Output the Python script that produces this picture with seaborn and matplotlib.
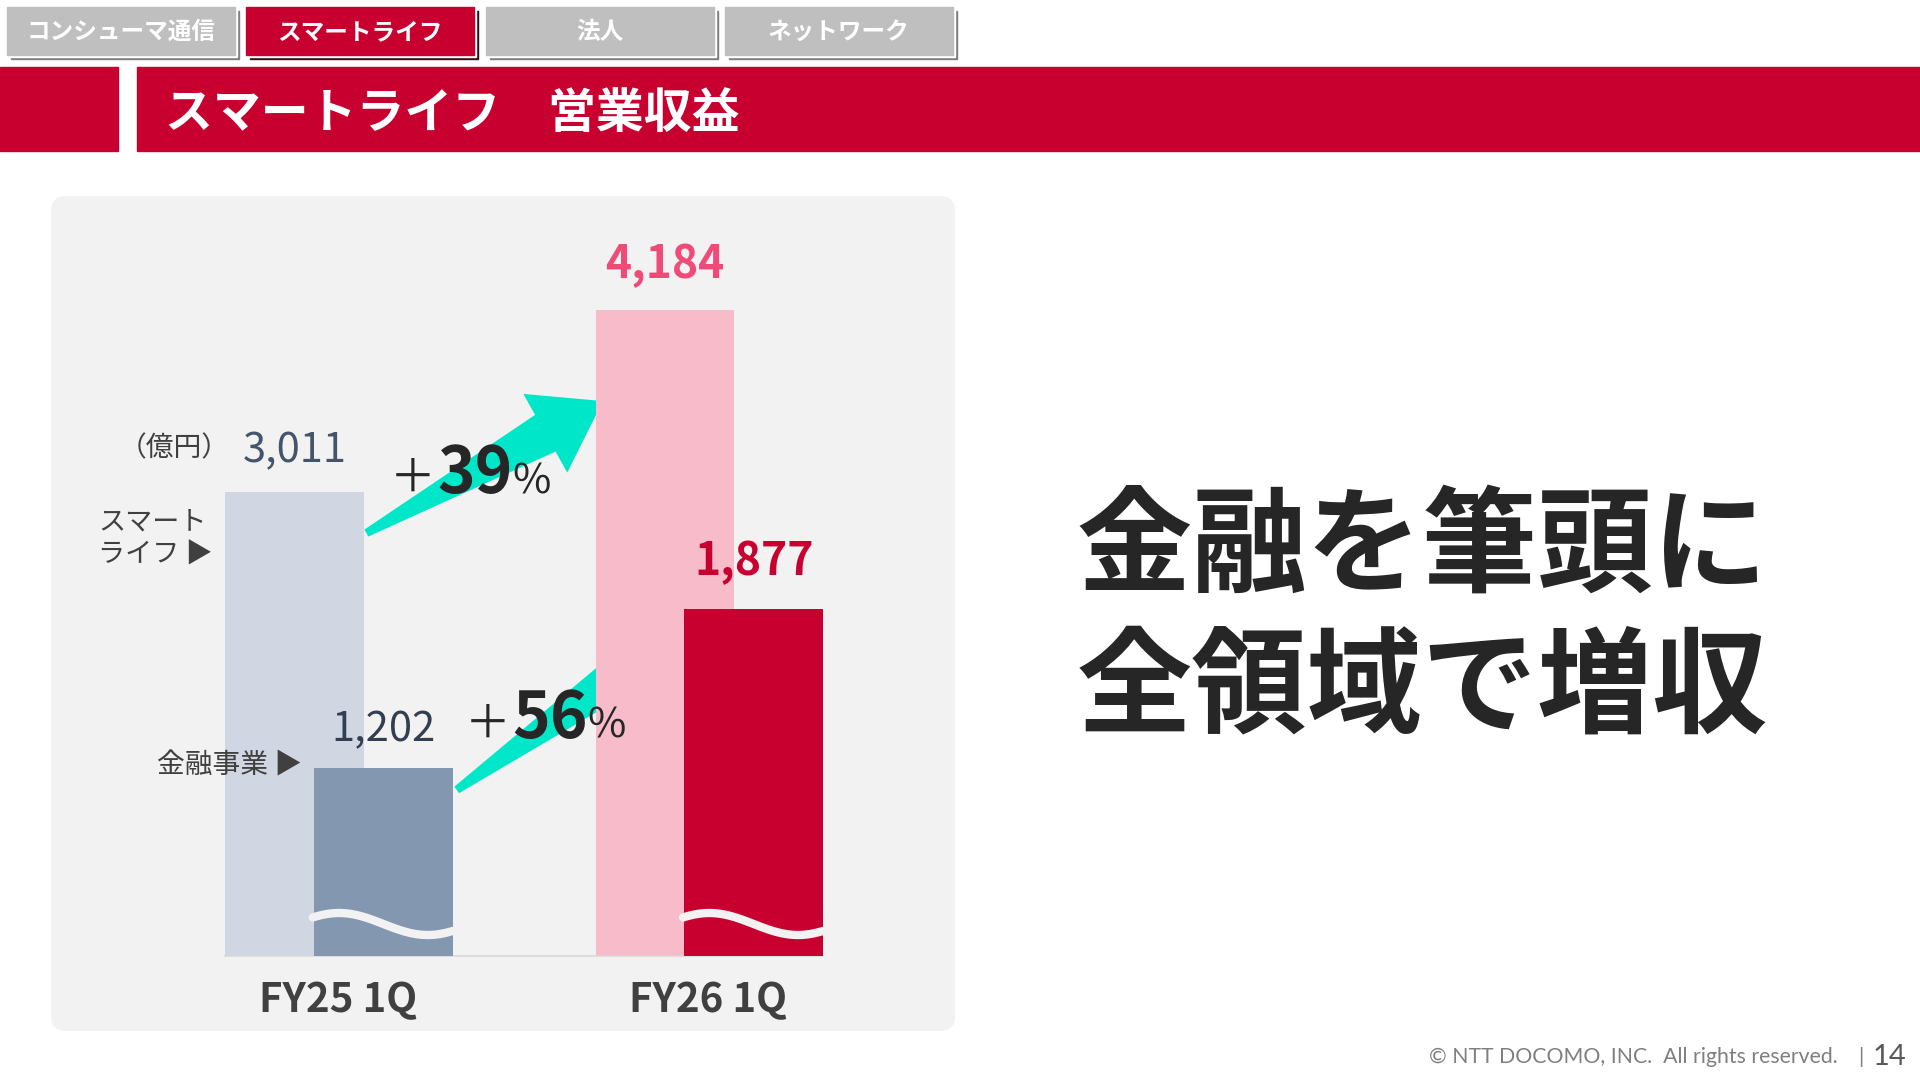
import numpy as np
import pandas as pd
import matplotlib.pyplot as plt
import matplotlib.transforms as mtransforms
from matplotlib.patches import Rectangle, FancyBboxPatch, Polygon
import seaborn as sns

# データ (億円)
periods = ['FY25 1Q', 'FY26 1Q']
smartlife = [3011, 4184]
finance = [1202, 1877]
growth = ['39', '56']
tabs = ['コンシューマ通信', 'スマートライフ', '法人', 'ネットワーク']
title = 'スマートライフ　営業収益'
headline = ['金融を筆頭に', '全領域で増収']
unit = '（億円）'

sns.set_style('white')
plt.rcParams['font.family'] = ['Noto Sans CJK JP', 'DejaVu Sans']

RED = '#c8002f'
TEAL = '#00e6c8'
DARK = '#262626'
PANEL = '#f2f2f2'

fig = plt.figure(figsize=(19.2, 10.8), dpi=100)
# ピクセル座標 (左上原点)
px = mtransforms.Affine2D().scale(0.01, -0.01).translate(0, 10.8) + fig.dpi_scale_trans

# タブ
for i, name in enumerate(tabs):
    x0 = 7 + i * 239.3
    face = RED if i == 1 else '#bfbfbf'
    shadow = '#3d0a14' if i == 1 else '#7f7f7f'
    fig.add_artist(Rectangle((x0 + 4, 11), 228, 48, color=shadow, transform=px))
    fig.add_artist(Rectangle((x0 + 2, 9), 228, 48, color='white', transform=px))
    fig.add_artist(Rectangle((x0, 7), 228, 48, color=face, transform=px))
    fig.text(x0 + 114, 32, name, transform=px, ha='center', va='center',
             color='white', fontsize=17, weight='bold')

# 見出し帯
fig.add_artist(Rectangle((0, 67), 118, 84, color=RED, transform=px))
fig.add_artist(Rectangle((137, 67), 1783, 84, color=RED, transform=px))
fig.text(165, 113, title, transform=px, ha='left', va='center',
         color='white', fontsize=34.5, weight='bold')

# グラフ背景パネル
fig.add_artist(FancyBboxPatch((51, 196), 904, 835, boxstyle='round,pad=0,rounding_size=15',
                              fc=PANEL, ec='none', transform=px, zorder=-1))

# 棒グラフ
ax = fig.add_axes([0.11734, 0.11454, 0.31125, 0.64444])
ax.set_facecolor('none')
ax2 = ax.twinx()

pos = np.arange(len(periods))
df = pd.DataFrame({'period': periods, 'smartlife': smartlife, 'finance': finance})
df['x_sl'] = pos - 0.1175
df['x_fin'] = pos + 0.1225
bar_w = 0.374

sns.barplot(data=df, x='x_sl', y='smartlife', hue='period', palette=['#d0d7e2', '#f7bbc9'],
            native_scale=True, dodge=False, width=bar_w, saturation=1, linewidth=0,
            errorbar=None, legend=False, ax=ax)
sns.barplot(data=df, x='x_fin', y='finance', hue='period', palette=['#8497b0', RED],
            native_scale=True, dodge=False, width=bar_w, saturation=1, linewidth=0,
            errorbar=None, legend=False, ax=ax2)

# 金融事業は波線で省略表示 (下端を切る)
ax.set_ylim(0, 4509)
ax2.set_ylim(402.5, 3354)
ax.set_xlim(-0.3045, 1.3095)

ax.set_xticks(pos, periods)
ax.tick_params(axis='x', length=0, pad=17, labelsize=29, labelcolor='#404040')
for lbl in ax.get_xticklabels():
    lbl.set_fontweight('bold')
ax.set_yticks([])
ax2.set_yticks([])
for a in (ax, ax2):
    a.set_xlabel('')
    a.set_ylabel('')
    for s in a.spines.values():
        s.set_visible(False)
ax.spines['bottom'].set_visible(True)
ax.spines['bottom'].set_color('#d9d9d9')
ax.spines['bottom'].set_linewidth(1.2)

# 数値ラベル
sl_color = ['#44546a', '#f04a78']
fin_color = ['#333f50', RED]
lab_weight = ['normal', 'bold']
lab_size = [30, 32]
sl_pad = [21, 23]
fin_pad = [19, 24]
for i in range(len(periods)):
    ax.annotate(f'{smartlife[i]:,}', xy=(df.x_sl[i], smartlife[i]), xytext=(0, sl_pad[i]),
                textcoords='offset points', ha='center', va='baseline',
                fontsize=lab_size[i], color=sl_color[i], weight=lab_weight[i])
    ax2.annotate(f'{finance[i]:,}', xy=(df.x_fin[i], finance[i]), xytext=(0, fin_pad[i]),
                 textcoords='offset points', ha='center', va='baseline',
                 fontsize=lab_size[i], color=fin_color[i], weight=lab_weight[i])

# 波線 (省略記号)
wave_tf = mtransforms.blended_transform_factory(ax2.transData, ax2.transAxes)
t = np.linspace(-0.01, 1, 80)
for x in df.x_fin:
    xs = x - bar_w / 2 + t * bar_w
    ys = 0.0464 + 0.0158 * np.sin(2 * np.pi * (t - 0.18) / 1.28 + np.pi / 2)
    ax2.plot(xs, ys, transform=wave_tf, color=PANEL, lw=6,
             solid_capstyle='round', zorder=5)


# 矢印
def arrow(axis, tail, tip, tail_w=8, shaft_w=42, head_l=66, head_w=90):
    p0 = axis.transData.transform(tail)
    p1 = axis.transData.transform(tip)
    d = p1 - p0
    u = d / np.hypot(*d)
    n = np.array([-u[1], u[0]])
    b = p1 - u * head_l
    verts = [p0 + n * tail_w / 2, b + n * shaft_w / 2, b + n * head_w / 2, p1,
             b - n * head_w / 2, b - n * shaft_w / 2, p0 - n * tail_w / 2]
    verts = ax.transData.inverted().transform(np.array(verts))
    ax.add_patch(Polygon(verts, closed=True, color=TEAL, lw=0, zorder=0.5))


arrow(ax, (df.x_sl[0] + bar_w / 2 + 0.007, smartlife[0] - 269),
      (df.x_sl[1] - bar_w / 2 + 0.02, smartlife[1] - 587))
arrow(ax2, (df.x_fin[0] + bar_w / 2 + 0.011, finance[0] - 94),
      (df.x_fin[1] - bar_w / 2 - 0.013, finance[1] - 102))

# 伸び率
growth_pos = [(436, 478, 493), (511, 724, 738)]
for g, (gx, gy_plus, gy) in zip(growth, growth_pos):
    fig.text(gx, gy_plus, '＋', transform=px, ha='right', va='center', fontsize=33, color=DARK)
    fig.text(gx + 1, gy, g, transform=px, ha='left', va='baseline', fontsize=46,
             weight='bold', color=DARK)
    fig.text(gx + 76, gy, '%', transform=px, ha='left', va='baseline', fontsize=30, color=DARK)

# 系列名・単位
fig.text(119, 448, unit, transform=px, ha='left', va='center', fontsize=20, color='#404040')
fig.text(98, 522, 'スマート', transform=px, ha='left', va='center', fontsize=19.5, color='#404040')
fig.text(98, 555, 'ライフ ▶', transform=px, ha='left', va='center', fontsize=19.5, color='#404040')
fig.text(157, 765, '金融事業 ▶', transform=px, ha='left', va='center', fontsize=20, color='#404040')

# メッセージ
fig.text(1422, 583, headline[0], transform=px, ha='center', va='baseline',
         fontsize=83, weight='bold', color=DARK)
fig.text(1422, 723, headline[1], transform=px, ha='center', va='baseline',
         fontsize=83, weight='bold', color=DARK)

# フッター
fig.text(1838, 1057, '© NTT DOCOMO, INC.  All rights reserved.', transform=px, ha='right',
         va='center', fontsize=15.3, color='#7f7f7f', family=['Lato', 'DejaVu Sans'])
fig.text(1861, 1057, '|', transform=px, ha='center', va='center', fontsize=15,
         color='#7f7f7f', family=['Lato', 'DejaVu Sans'])
fig.text(1906, 1057, '14', transform=px, ha='right', va='center', fontsize=21,
         color='#595959', family=['Lato', 'DejaVu Sans'])

fig.savefig('out.png', dpi=100)
